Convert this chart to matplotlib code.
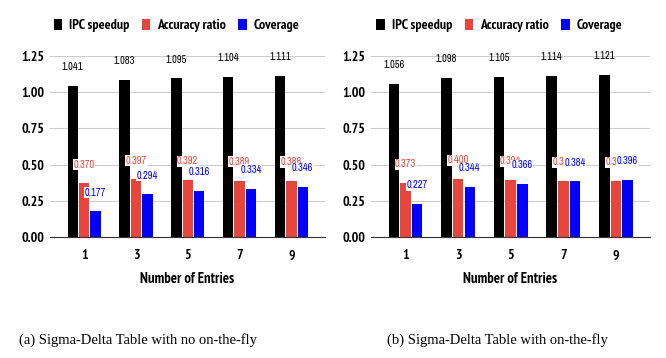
import matplotlib
matplotlib.use('Agg')
import matplotlib.pyplot as plt
import numpy as np

# dados
entradas = ['1', '3', '5', '7', '9']
ipc_a = [1.041, 1.083, 1.095, 1.104, 1.111]
acc_a = [0.370, 0.397, 0.392, 0.389, 0.388]
cov_a = [0.177, 0.294, 0.316, 0.334, 0.346]

ipc_b = [1.056, 1.098, 1.105, 1.114, 1.121]
acc_b = [0.373, 0.400, 0.394, 0.387, 0.386]
cov_b = [0.227, 0.344, 0.366, 0.384, 0.396]

legendas = ['IPC speedup', 'Accuracy ratio', 'Coverage']
cores = ['#000000', '#e8453c', '#0000ff']
legenda_a = '(a) Sigma-Delta Table with no on-the-fly'
legenda_b = '(b) Sigma-Delta Table with on-the-fly'

NARROW = ['Liberation Sans Narrow', 'Arial Narrow', 'Archivo Narrow',
          'Roboto Condensed', 'DejaVu Sans']
NEGRITO = ['PT Sans Narrow', 'Liberation Sans Narrow', 'Arial Narrow', 'DejaVu Sans']
SERIF = ['Liberation Serif', 'Tinos', 'DejaVu Serif']
plt.rcParams['font.family'] = NARROW

fig = plt.figure(figsize=(6.66, 3.58), dpi=100)
ax_a = fig.add_axes([0.075, 0.338, 0.413, 0.506])
ax_b = fig.add_axes([0.557, 0.338, 0.419, 0.506])


def desenha(ax, series):
    x = np.arange(len(entradas))
    desloc = [-0.22, 0.0, 0.22]
    for i, (serie, d, cor, nome) in enumerate(zip(series, desloc, cores, legendas)):
        ax.bar(x + d, serie, width=0.2, color=cor, label=nome, zorder=3)
        for xi, v in zip(x, serie):
            caixa = None
            if i > 0:
                caixa = dict(boxstyle='square,pad=0.05', facecolor='white', edgecolor='none')
            ax.annotate(f'{v:.3f}', (xi + d, v), xytext=(0, 13.5),
                        textcoords='offset points', ha='center', va='center',
                        fontsize=7.5, color=cor, zorder=5 + i, bbox=caixa)
    ax.set_xlim(-0.66, 4.65)
    ax.set_ylim(0, 1.25)
    ax.set_yticks([0, 0.25, 0.5, 0.75, 1.0, 1.25])
    ax.set_yticklabels(['0.00', '0.25', '0.50', '0.75', '1.00', '1.25'],
                       family=NEGRITO, fontsize=10, fontweight='bold')
    ax.set_xticks(x)
    ax.set_xticklabels(entradas, family=NEGRITO, fontsize=10, fontweight='bold')
    ax.tick_params(length=0, pad=9)
    ax.tick_params(axis='y', pad=4)
    ax.grid(axis='y', color='#cccccc', linewidth=0.8, zorder=0)
    for s in ['top', 'right', 'left']:
        ax.spines[s].set_visible(False)
    ax.spines['bottom'].set_color('#333333')
    ax.spines['bottom'].set_zorder(4)
    ax.set_xlabel('Number of Entries', family=NEGRITO, fontsize=10.5,
                  fontweight='bold', labelpad=7)
    ax.legend(loc='lower center', bbox_to_anchor=(0.46, 1.06), ncol=3,
              frameon=False, handlelength=0.6, handleheight=0.8,
              handletextpad=0.5, columnspacing=0.9,
              prop={'family': NEGRITO, 'size': 10, 'weight': 'bold'})


desenha(ax_a, [ipc_a, acc_a, cov_a])
desenha(ax_b, [ipc_b, acc_b, cov_b])

fig.text(138 / 666, 1 - 340 / 358, legenda_a, ha='center', va='center',
         family=SERIF, fontsize=10.5)
fig.text(497 / 666, 1 - 340 / 358, legenda_b, ha='center', va='center',
         family=SERIF, fontsize=10.5)

fig.savefig('out.png', dpi=100)
